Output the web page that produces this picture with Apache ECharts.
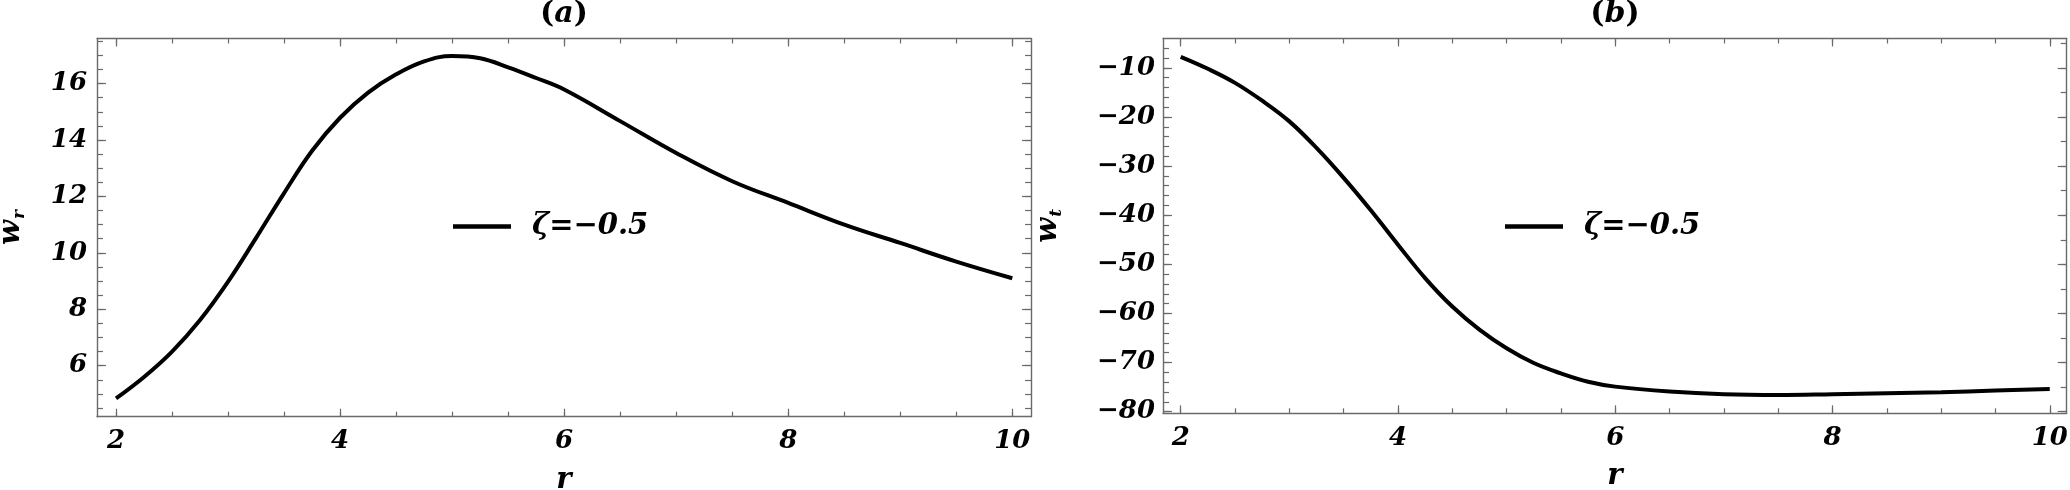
<!DOCTYPE html>
<html>
<head>
<meta charset="utf-8">
<script src="https://cdn.jsdelivr.net/npm/echarts@6/dist/echarts.min.js"></script>
<style>
html,body{margin:0;padding:0;background:#fff;}
#chart{width:2070px;height:490px;}
</style>
</head>
<body>
<div id="chart"></div>
<script>
// ---- data ----
const rValues  = [2, 2.25, 2.5, 2.75, 3, 3.25, 3.5, 3.75, 4, 4.25, 4.5, 4.75, 5, 5.25, 5.5, 5.75, 6, 6.5, 7, 7.5, 8, 8.5, 9, 9.5, 10];
const wrValues = [4.84, 5.60, 6.50, 7.62, 8.98, 10.53, 12.12, 13.62, 14.79, 15.68, 16.33, 16.79, 16.98, 16.90, 16.58, 16.20, 15.79, 14.67, 13.54, 12.54, 11.77, 11.00, 10.35, 9.69, 9.10];
const wtValues = [-7.76, -10.2, -13.06, -16.7, -20.9, -26.3, -32.4, -39.0, -46.0, -52.8, -58.6, -63.3, -67.1, -70.1, -72.2, -73.9, -74.9, -75.9, -76.45, -76.6, -76.45, -76.25, -76.05, -75.7, -75.37];
const seriesName = 'ζ=−0.5';

// ---- tick labels / tick positions ----
const rTicks = [2, 4, 6, 8, 10];
const rMinor = [2, 2.5, 3, 3.5, 4, 4.5, 5, 5.5, 6, 6.5, 7, 7.5, 8, 8.5, 9, 9.5, 10];
const wrTicks = [6, 8, 10, 12, 14, 16];
const wrMinor = [4.5, 5, 5.5, 6, 6.5, 7, 7.5, 8, 8.5, 9, 9.5, 10, 10.5, 11, 11.5, 12, 12.5, 13, 13.5, 14, 14.5, 15, 15.5, 16, 16.5, 17, 17.5];
const wtTicks = [-80, -70, -60, -50, -40, -30, -20, -10];
const wtMinorLeft = [-80, -78, -76, -74, -72, -70, -68, -66, -64, -62, -60, -58, -56, -54, -52, -50, -48, -46, -44, -42, -40, -38, -36, -34, -32, -30, -28, -26, -24, -22, -20, -18, -16, -14, -12, -10, -8, -6];
const wtMinorRight = [-80, -75, -70, -65, -60, -55, -50, -45, -40, -35, -30, -25, -20, -15, -10, -5];

const FONT = 'DejaVu Serif';
const FRAME = '#6a6a6a';

function fmt(v) { return String(v).replace('-', '\u2212'); }

function ax(grid, pos, min, max, ticks, len, opts) {
  opts = opts || {};
  return Object.assign({
    type: 'value', gridIndex: grid, position: pos, min: min, max: max,
    axisLine: { show: !!opts.line, onZero: false, lineStyle: { color: FRAME, width: 1.4 } },
    axisTick: { show: true, inside: true, length: len, customValues: ticks, lineStyle: { color: FRAME, width: 1.2 } },
    axisLabel: opts.labels ? {
      show: true, customValues: ticks, margin: opts.margin, formatter: fmt,
      fontFamily: FONT, fontWeight: 'bold', fontStyle: 'italic', fontSize: 26, color: '#000'
    } : { show: false },
    splitLine: { show: false }
  }, opts.extra || {});
}

const nameRich = {
  w: { fontFamily: FONT, fontWeight: 'bold', fontStyle: 'italic', fontSize: 29, color: '#000', verticalAlign: 'top', lineHeight: 29 },
  s: { fontFamily: FONT, fontWeight: 'bold', fontStyle: 'italic', fontSize: 17, color: '#000', verticalAlign: 'top', lineHeight: 17, padding: [14, 0, 0, 1] }
};
const rName = {
  name: 'r', nameLocation: 'middle', nameGap: 49,
  nameTextStyle: { fontFamily: FONT, fontWeight: 'bold', fontStyle: 'italic', fontSize: 29, color: '#000' }
};

const XA = [1.830, 10.167], YA = [4.19, 17.6];
const XB = [1.837, 10.156], YB = [-80.33, -4.03];

const xAxes = [
  ax(0, 'bottom', XA[0], XA[1], rTicks, 8, { line: true, labels: true, margin: 12, extra: rName }),
  ax(0, 'bottom', XA[0], XA[1], rMinor, 5),
  ax(0, 'top', XA[0], XA[1], rTicks, 8, { line: true }),
  ax(0, 'top', XA[0], XA[1], rMinor, 5),
  ax(1, 'bottom', XB[0], XB[1], rTicks, 8, { line: true, labels: true, margin: 12, extra: rName }),
  ax(1, 'bottom', XB[0], XB[1], rMinor, 5),
  ax(1, 'top', XB[0], XB[1], rTicks, 8, { line: true }),
  ax(1, 'top', XB[0], XB[1], rMinor, 5)
];
const yAxes = [
  ax(0, 'left', YA[0], YA[1], wrTicks, 9, { line: true, labels: true, margin: 10, extra: {
    name: '{w|w}{s|r}', nameLocation: 'middle', nameGap: 71, nameTextStyle: { rich: nameRich } } }),
  ax(0, 'left', YA[0], YA[1], wrMinor, 6),
  ax(0, 'right', YA[0], YA[1], wrTicks, 9, { line: true }),
  ax(0, 'right', YA[0], YA[1], wrMinor, 6),
  ax(1, 'left', YB[0], YB[1], wtTicks, 9, { line: true, labels: true, margin: 8, extra: {
    name: '{w|w}{s|t}', nameLocation: 'middle', nameGap: 100, nameTextStyle: { rich: nameRich } } }),
  ax(1, 'left', YB[0], YB[1], wtMinorLeft, 6),
  ax(1, 'right', YB[0], YB[1], wtTicks, 9, { line: true }),
  ax(1, 'right', YB[0], YB[1], wtMinorRight, 6)
];

const titleRich = {
  p: { fontFamily: FONT, fontWeight: 'bold', fontSize: 30, color: '#000' },
  i: { fontFamily: FONT, fontWeight: 'bold', fontStyle: 'italic', fontSize: 30, color: '#000' }
};

function legendAt(left) {
  return {
    left: left, top: 212, padding: 0, orient: 'horizontal',
    data: [seriesName], icon: 'rect', itemWidth: 58, itemHeight: 4.5,
    selectedMode: false,
    textStyle: { fontFamily: FONT, fontWeight: 'bold', fontStyle: 'italic', fontSize: 29, color: '#000', padding: [0, 0, 0, 16] }
  };
}

const chart = echarts.init(document.getElementById('chart'), null, { renderer: 'canvas' });
chart.setOption({
  backgroundColor: '#fff',
  animation: false,
  title: [
    { text: '{p|(}{i|a}{p|)}', left: 564, top: -1, padding: 0, textAlign: 'center', textStyle: { rich: titleRich } },
    { text: '{p|(}{i|b}{p|)}', left: 1615, top: -1, padding: 0, textAlign: 'center', textStyle: { rich: titleRich } }
  ],
  legend: [legendAt(453), legendAt(1505)],
  grid: [
    { left: 97, right: 1039, top: 38.5, bottom: 73.3, containLabel: false, outerBoundsMode: 'none' },
    { left: 1163, right: 3.3, top: 38.5, bottom: 76.7, containLabel: false, outerBoundsMode: 'none' }
  ],
  xAxis: xAxes,
  yAxis: yAxes,
  series: [
    { name: seriesName, type: 'line', xAxisIndex: 0, yAxisIndex: 0, smooth: 0.4, showSymbol: false, symbol: 'none',
      color: '#000', lineStyle: { color: '#000', width: 4 }, itemStyle: { color: '#000' },
      data: rValues.map((r, i) => [r, wrValues[i]]) },
    { name: seriesName, type: 'line', xAxisIndex: 4, yAxisIndex: 4, smooth: 0.4, showSymbol: false, symbol: 'none',
      color: '#000', lineStyle: { color: '#000', width: 4 }, itemStyle: { color: '#000' },
      data: rValues.map((r, i) => [r, wtValues[i]]) }
  ]
});
</script>
</body>
</html>
